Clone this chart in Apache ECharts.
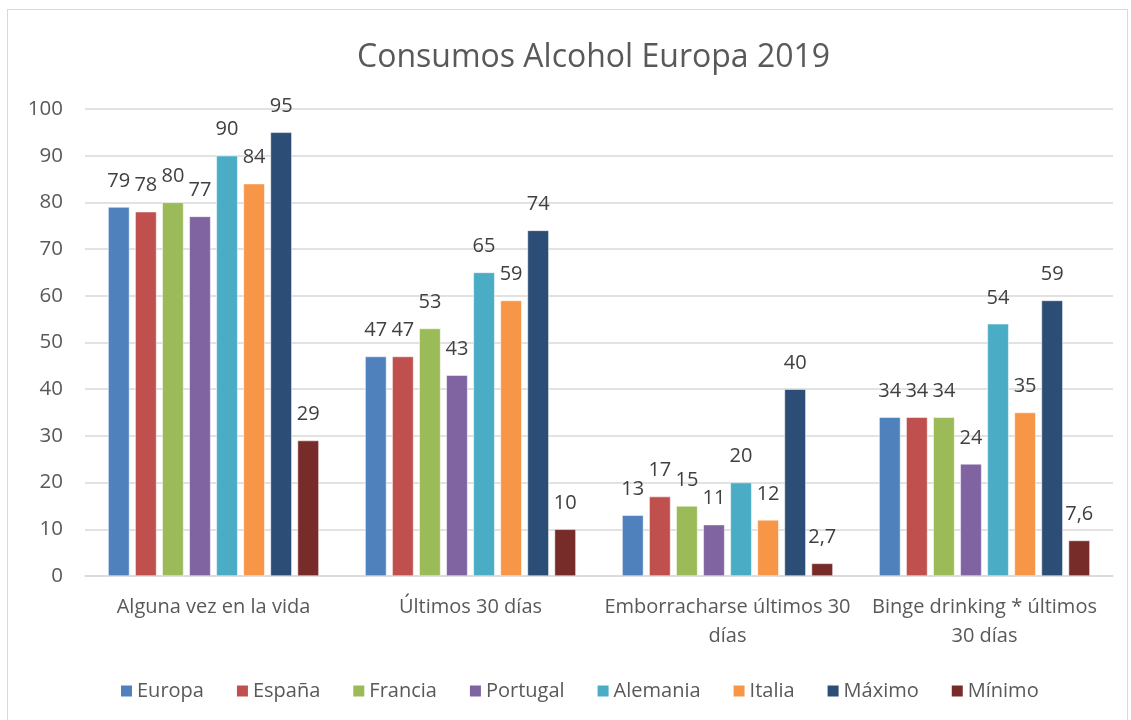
<!DOCTYPE html>
<html>
<head>
<meta charset="utf-8">
<script src="https://cdn.jsdelivr.net/npm/echarts@6/dist/echarts.min.js"></script>
<style>
html,body{margin:0;padding:0;background:#fff;}
#frame{position:absolute;left:7px;top:9px;width:1121px;height:720px;border:1px solid #d9d9d9;box-sizing:border-box;}
#chart{position:absolute;left:0;top:0;width:1131px;height:720px;}
</style>
</head>
<body>
<div id="frame"></div>
<div id="chart"></div>
<script>
const categories = ["Alguna vez en la vida", "Últimos 30 días", "Emborracharse últimos 30\ndías", "Binge drinking * últimos\n30 días"];
const seriesNames = ["Europa", "España", "Francia", "Portugal", "Alemania", "Italia", "Máximo", "Mínimo"];
const europa   = [79, 47, 13, 34];
const espana   = [78, 47, 17, 34];
const francia  = [80, 53, 15, 34];
const portugal = [77, 43, 11, 24];
const alemania = [90, 65, 20, 54];
const italia   = [84, 59, 12, 35];
const maximo   = [95, 74, 40, 59];
const minimo   = [29, 10, 2.7, 7.6];
const yTicks = [0, 10, 20, 30, 40, 50, 60, 70, 80, 90, 100];

const values = [europa, espana, francia, portugal, alemania, italia, maximo, minimo];
const colors = ["#4F81BD", "#C0504D", "#9BBB59", "#8064A2", "#4BACC6", "#F79646", "#2C4D75", "#772C2A"];
const font = "'Open Sans', Lato, sans-serif";

const chart = echarts.init(document.getElementById('chart'));
chart.setOption({
  animation: false,
  title: {
    text: "Consumos Alcohol Europa 2019",
    left: 352, top: 37,
    textStyle: {fontFamily: font, fontSize: 32, fontWeight: 'normal', color: '#595959'}
  },
  legend: {
    bottom: 14, left: 114,
    itemWidth: 13, itemHeight: 13, itemGap: 31,
    icon: 'rect',
    textStyle: {fontFamily: font, fontSize: 20, color: '#595959', padding: [0,0,0,-1]},
    data: seriesNames
  },
  grid: {left: 85, right: 18, top: 109, bottom: 144, containLabel: false},
  xAxis: {
    type: 'category',
    data: categories,
    axisLine: {lineStyle: {color: '#d9d9d9', width: 1.5}},
    axisTick: {show: false},
    axisLabel: {fontFamily: font, fontSize: 20, color: '#595959', margin: 17, lineHeight: 29, interval: 0}
  },
  yAxis: {
    type: 'value', min: 0, max: 100, interval: 10,
    axisLine: {show: false},
    axisTick: {show: false},
    splitLine: {lineStyle: {color: '#d9d9d9', width: 1.5}},
    axisLabel: {fontFamily: font, fontSize: 20.5, color: '#595959', margin: 22,
      formatter: v => yTicks.includes(v) ? String(v) : ''}
  },
  series: seriesNames.map((n, i) => ({
    name: n, type: 'bar',
    data: values[i],
    barGap: '27%', barCategoryGap: '18%',
    itemStyle: {color: colors[i], borderColor: '#fff', borderWidth: 0.5},
    label: {show: true, position: 'top', distance: 16, fontFamily: font, fontSize: 20, color: '#404040',
      formatter: p => String(p.value).replace('.', ',')}
  }))
});
</script>
</body>
</html>
